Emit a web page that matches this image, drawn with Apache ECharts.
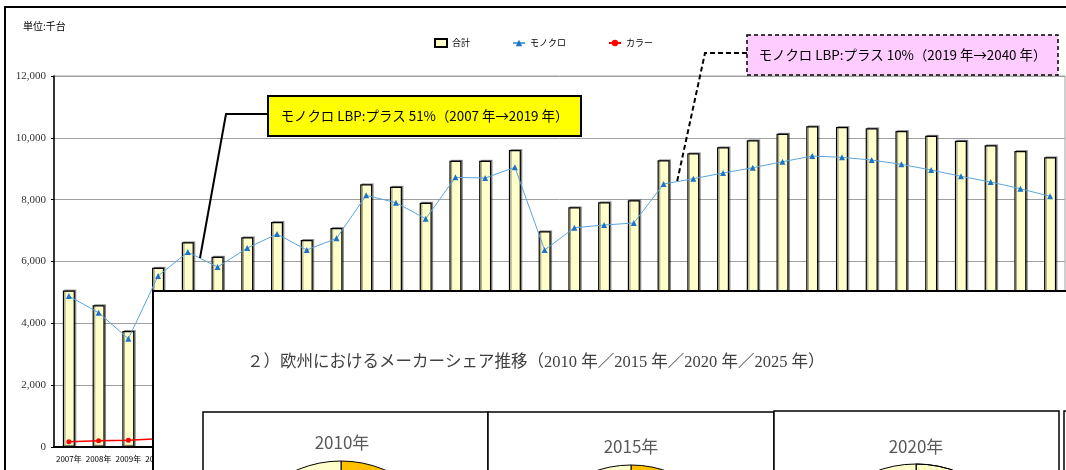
<!DOCTYPE html>
<html lang="ja" style="height: 100%">
<head>
    <meta charset="UTF-8">
    <title>LBP 出荷台数推移</title>
    <script src="https://cdn.jsdelivr.net/npm/echarts@6/dist/echarts.min.js"></script>
</head>
<body style="height: 100%; margin: 0; background: #fff">
<div id="main" style="width: 1066px; height: 470px"></div>
<script>
    // 年
    var years = ['2007年','2008年','2009年','2010年','2011年','2012年','2013年','2014年','2015年','2016年',
        '2017年','2018年','2019年','2020年','2021年','2022年','2023年','2024年','2025年','2026年',
        '2027年','2028年','2029年','2030年','2031年','2032年','2033年','2034年','2035年','2036年',
        '2037年','2038年','2039年','2040年'];
    // 合計 (千台)
    var total = [5060,4585,3754,5800,6620,6155,6782,7277,6695,7083,
        8496,8420,7902,9260,9260,9605,6976,7752,7914,7978,
        9272,9498,9692,9919,10133,10371,10349,10307,10220,10068,
        9906,9757,9573,9369];
    // モノクロ
    var mono = [4883,4343,3502,5530,6306,5821,6436,6889,6371,6750,
        8140,7902,7384,8722,8700,9046,6371,7093,7180,7245,
        8506,8678,8862,9033,9227,9411,9369,9282,9143,8959,
        8755,8570,8354,8108];
    // カラー (2010年以降は図の下に隠れている)
    var color = [170,200,220,270,310,330,350,390,330,340,
        360,520,520,540,560,560,600,660,730,730,
        770,820,830,890,910,960,980,1030,1080,1110,
        1150,1190,1220,1260];
    var yTicks = [0, 12000, 2000];

    // 欧州シェア円グラフ (上端のみ見えている)
    var pieTitles = ['2010年', '2015年', '2020年'];
    var share2010 = [30, 25, 20, 25];
    var share2015 = [28, 27, 20, 25];
    var share2020 = [26, 27, 22, 25];

    var callout1 = 'モノクロ LBP:プラス 51%（2007 年→2019 年）';
    var callout2 = 'モノクロ LBP:プラス 10%（2019 年→2040 年）';
    var subTitle = '２）欧州におけるメーカーシェア推移（2010 年／2015 年／2020 年／2025 年）';

    var gothic = '"Noto Sans CJK JP", sans-serif';
    var mincho = '"Liberation Serif", "Noto Sans CJK JP", serif';

    function pieData(vals, decalFirst) {
        var cols = ['#ffc000', '#bfbfbf', '#9dc3e6', '#ffffcc'];
        return vals.map(function (v, i) {
            var it = {value: v, name: 's' + i, itemStyle: {color: cols[i]}};
            if (decalFirst && i === 0) {
                it.itemStyle = {color: '#ffffcc', decal: {symbol: 'circle', color: '#ffc000',
                    symbolSize: 0.5, dashArrayX: [2, 4], dashArrayY: [2, 4]}};
            }
            return it;
        });
    }
    function pie(vals, cx, cy, r, decalFirst) {
        return {
            type: 'pie', z: 110, silent: true, center: [cx, cy], radius: r,
            startAngle: 90, label: {show: false}, labelLine: {show: false},
            itemStyle: {borderColor: '#000', borderWidth: 1},
            emphasis: {disabled: true},
            data: pieData(vals, decalFirst)
        };
    }

    var myoption = {
        animation: false,
        legend: {
            left: 429, top: 33, itemGap: 42, itemWidth: 12, itemHeight: 8,
            textStyle: {fontSize: 9, fontFamily: gothic, color: '#000'},
            data: [{name: '合計', icon: 'rect'}, 'モノクロ', 'カラー']
        },
        grid: {left: 54, right: 1, top: 76, bottom: 23, show: true, borderColor: '#a0a0a0', borderWidth: 1},
        xAxis: {
            type: 'category', data: years,
            axisLine: {lineStyle: {color: '#000', width: 2}},
            axisTick: {show: false},
            axisLabel: {fontSize: 8, fontFamily: gothic, color: '#000', margin: 8, interval: 0}
        },
        yAxis: {
            type: 'value', min: yTicks[0], max: yTicks[1], interval: yTicks[2],
            axisLine: {show: true, lineStyle: {color: '#000', width: 1.5}},
            axisTick: {show: true, length: 3, lineStyle: {color: '#000'}},
            axisLabel: {fontSize: 11, fontFamily: mincho, color: '#333', margin: 8},
            splitLine: {lineStyle: {color: '#a0a0a0', width: 1}}
        },
        series: [
            {
                name: '合計', type: 'bar', data: total, barWidth: 12,
                itemStyle: {color: '#ffffcc', borderColor: '#000', borderWidth: 1.2,
                    shadowColor: 'rgba(0,0,0,0.35)', shadowOffsetX: 1.5, shadowOffsetY: -1}
            },
            {
                name: 'モノクロ', type: 'line', data: mono, symbol: 'triangle', symbolSize: 6,
                lineStyle: {color: '#5aa5de', width: 1},
                itemStyle: {color: '#1f72c4'}
            },
            {
                name: 'カラー', type: 'line', data: color, symbol: 'circle', symbolSize: 5,
                lineStyle: {color: '#ff0000', width: 1.5},
                itemStyle: {color: '#ff0000'}
            },
            pie(share2010, 341, 573, 112, false),
            pie(share2015, 631, 573, 108, false),
            pie(share2020, 916, 578, 114, true)
        ],
        graphic: [
            // 外枠
            {type: 'polyline', z: 90, shape: {points: [[5, 470], [5, 7], [1066, 7]]},
                style: {stroke: '#000', lineWidth: 2, fill: null}},
            {type: 'text', z: 90, left: 23, top: 21,
                style: {text: '単位:千台', fontSize: 10, fontFamily: gothic, fill: '#000'}},
            // 吹き出し 1
            {type: 'polyline', z: 95, shape: {points: [[268, 114], [226, 114], [200, 258]]},
                style: {stroke: '#000', lineWidth: 2, fill: null}},
            {type: 'rect', z: 95, shape: {x: 268, y: 96, width: 313, height: 40},
                style: {fill: '#ffff00', stroke: '#000', lineWidth: 2}},
            {type: 'text', z: 96, x: 424.5, y: 116,
                style: {text: callout1, fontSize: 13.4, fontFamily: gothic, fill: '#000',
                    align: 'center', verticalAlign: 'middle'}},
            // 吹き出し 2
            {type: 'polyline', z: 95, shape: {points: [[747, 53], [705, 53], [677, 182]]},
                style: {stroke: '#000', lineWidth: 2, fill: null, lineDash: [5, 3]}},
            {type: 'rect', z: 95, shape: {x: 747, y: 35, width: 311, height: 40},
                style: {fill: '#ffccff', stroke: '#000', lineWidth: 1.5, lineDash: [4, 3]}},
            {type: 'text', z: 96, x: 902.5, y: 55,
                style: {text: callout2, fontSize: 13.4, fontFamily: gothic, fill: '#000',
                    align: 'center', verticalAlign: 'middle'}},
            // 上に重なった資料ページ
            {type: 'rect', z: 100, shape: {x: 153, y: 291, width: 1000, height: 300},
                style: {fill: '#fff', stroke: '#000', lineWidth: 2}},
            {type: 'text', z: 120, x: 247, y: 363,
                style: {text: subTitle, fontSize: 16.5, fontFamily: mincho, fill: '#404040',
                    verticalAlign: 'middle'}},
            {type: 'rect', z: 105, shape: {x: 203, y: 412, width: 285, height: 200},
                style: {fill: '#fff', stroke: '#000', lineWidth: 1.5}},
            {type: 'rect', z: 105, shape: {x: 488, y: 412, width: 286, height: 200},
                style: {fill: '#fff', stroke: '#000', lineWidth: 1.5}},
            {type: 'rect', z: 105, shape: {x: 774, y: 411, width: 285, height: 200},
                style: {fill: '#fff', stroke: '#000', lineWidth: 1.5}},
            {type: 'rect', z: 105, shape: {x: 1064, y: 411, width: 285, height: 200},
                style: {fill: '#fff', stroke: '#000', lineWidth: 1.5}},
            {type: 'text', z: 120, x: 342, y: 443,
                style: {text: pieTitles[0], fontSize: 17, fontFamily: gothic, fill: '#595959',
                    align: 'center', verticalAlign: 'middle'}},
            {type: 'text', z: 120, x: 631, y: 447,
                style: {text: pieTitles[1], fontSize: 17, fontFamily: gothic, fill: '#595959',
                    align: 'center', verticalAlign: 'middle'}},
            {type: 'text', z: 120, x: 916, y: 447,
                style: {text: pieTitles[2], fontSize: 17, fontFamily: gothic, fill: '#595959',
                    align: 'center', verticalAlign: 'middle'}}
        ]
    };
    var myChart = echarts.init(document.getElementById('main'), null, {renderer: 'canvas'});
    myChart.setOption(myoption);
</script>
</body>
</html>
